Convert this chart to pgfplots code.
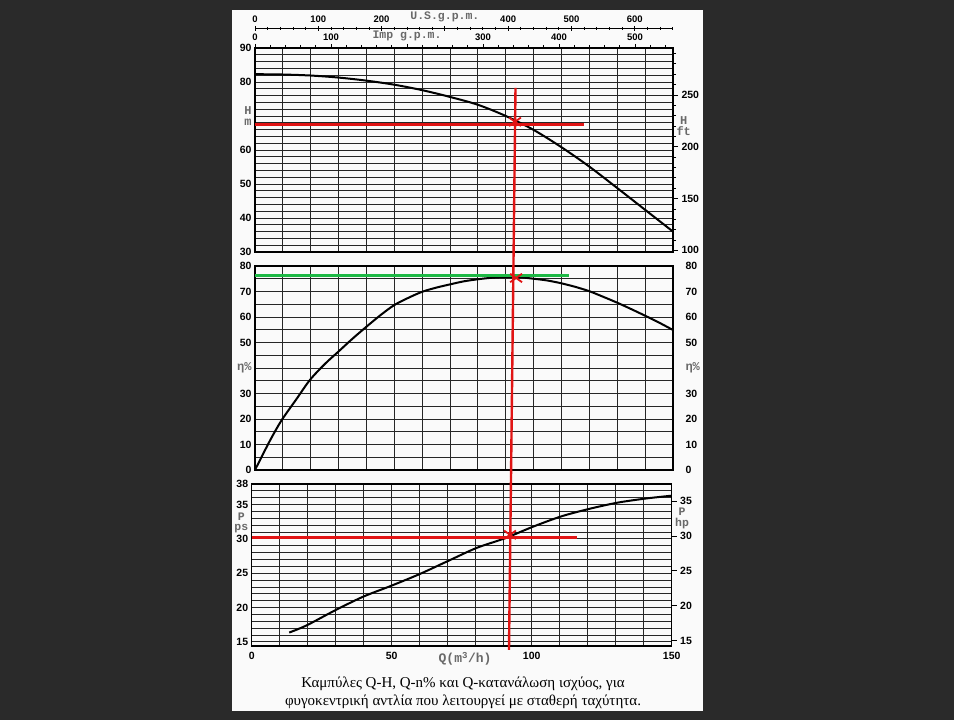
\documentclass[border=0pt]{standalone}
\usepackage{pgfplots}
\pgfplotsset{compat=1.18}
\usepackage{fontspec}
\setmainfont{Liberation Serif}
\newfontfamily\tickfont{Liberation Sans}
\newfontfamily\lblfont{Liberation Mono}
\definecolor{bgdark}{RGB}{42,42,42}
\definecolor{pagewhite}{RGB}{250,250,250}
\definecolor{rline}{RGB}{225,20,20}
\definecolor{gline}{RGB}{30,185,70}
\definecolor{lblgray}{RGB}{105,105,105}
\newcommand{\tk}{\tickfont\bfseries\fontsize{10.5}{10.5}\selectfont}
\newcommand{\tks}{\tickfont\bfseries\fontsize{9.5}{9.5}\selectfont}
\newcommand{\lb}{\lblfont\color{lblgray}\fontsize{12}{12.6}\selectfont}
\newcommand{\lbp}{\lblfont\color{lblgray}\fontsize{11.5}{12.5}\selectfont}
\newcommand{\lbb}{\lblfont\color{lblgray}\fontsize{11.5}{12}\selectfont}

\pgfplotsset{
  panel/.style={
    scale only axis, width=418pt, height=204pt,
    xmin=0, xmax=150,
    axis line style={line width=1.3pt},
    grid=both,
    major grid style={black!85, line width=0.9pt},
    minor grid style={black!85, line width=0.9pt},
    major tick length=0pt, minor tick length=0pt,
    tick label style={font=\tk},
    yticklabel style={align=center},
    /pgf/number format/assume math mode=true,
    clip=false,
  },
  over/.style={
    scale only axis, width=418pt, height=204pt,
    xmin=0, xmax=150,
    axis line style={line width=1.3pt},
    tick style={black, line width=0.8pt},
    tick label style={font=\tk},
    yticklabel style={align=center},
    /pgf/number format/assume math mode=true,
  },
  curve/.style={black, line width=2pt, smooth},
  redl/.style={rline, line width=2.4pt},
  cross/.style={rline, line width=1.8pt, only marks, mark=x, mark size=6pt,
    mark options={xscale=1.4}},
}

\begin{document}
\begin{tikzpicture}
\useasboundingbox (0pt,0pt) rectangle (954pt,720pt);
\fill[bgdark] (0pt,0pt) rectangle (954pt,720pt);
\fill[pagewhite] (232pt,9pt) rectangle (703pt,710pt);

% ---------- TOP PANEL: Q-H ----------
\begin{axis}[panel, at={(255pt,468pt)}, anchor=south west,
  ymin=30, ymax=90,
  xtick={0,10,...,150}, xticklabel=\empty,
  ytick={30,40,...,90}, minor ytick={30,32,...,90},
  yticklabels={30,40,50,60,{\lb H\\\lb m},80,90}]
\addplot[curve] coordinates {
 (0,82.3) (10,82.2) (20,81.9) (30,81.3) (40,80.4) (50,79.2) (60,77.6) (70,75.6)
 (80,73.3) (90,70.0) (100,65.9) (110,60.8) (120,55.1) (130,48.8) (140,42.4) (150,36.0)};
\addplot[redl] coordinates {(0,67.5) (118,67.5)};
\addplot[redl] coordinates {(93.48,78.24) (92.77,27.94)};
\addplot[cross] coordinates {(93.3,68.3)};
\end{axis}
% H ft right axis
\begin{axis}[over, at={(255pt,468pt)}, anchor=south west,
  ymin=98.425, ymax=295.276,
  axis x line=none, axis y line*=right,
  ytick={100,150,200,250}, minor ytick={110,120,...,290},
  tick align=outside, major tick length=5pt, minor tick length=3pt,
  extra y ticks={220}, extra y tick labels={{\lb H\\\lb ft}},
  extra y tick style={major tick length=0pt}]
\end{axis}
% Imp g.p.m. scale
\begin{axis}[over, at={(255pt,468pt)}, anchor=south west,
  xmin=0, xmax=549.92, ymin=0, ymax=1,
  axis y line=none, axis x line*=top,
  xtick={0,100,...,500}, xticklabels={0,100,{\raisebox{-1.5pt}{\lbb Imp g.p.m.}},300,400,500},
  minor xtick={0,20,...,540},
  tick align=outside, major tick length=4pt, minor tick length=3pt,
  xticklabel style={font=\tks}]
\end{axis}
% U.S. g.p.m. scale
\begin{axis}[over, at={(255pt,691.7pt)}, anchor=north west, height=10pt,
  xmin=0, xmax=660.43, ymin=0, ymax=1,
  axis y line=none, axis x line*=top,
  axis line style={line width=0.9pt},
  xtick={0,100,...,600}, xticklabels={0,100,200,{\raisebox{-2.5pt}{\lbb U.S.g.p.m.}},400,500,600},
  minor xtick={0,20,...,660},
  tick align=center, major tick length=5pt, minor tick length=3pt,
  xticklabel style={font=\tks}]
\end{axis}

% ---------- MIDDLE PANEL: Q-eta ----------
\begin{axis}[panel, at={(255pt,250pt)}, anchor=south west,
  ymin=0, ymax=80,
  xtick={0,10,...,150}, xticklabel=\empty,
  ytick={0,10,...,80}, minor ytick={0,5,...,80},
  yticklabels={0,10,20,30,{\lb η\%},50,60,70,80}]
\addplot[curve] coordinates {
 (0,0) (3,6.5) (6,12.8) (9.6,19.6) (15,28) (19.7,35.3) (25,41.5) (29.9,46.4) (35,51.5)
 (40,56.2) (45,60.7) (50,64.7) (55,67.5) (60,69.9) (65,71.5) (70,72.8) (75,74.0)
 (80,74.8) (85,75.4) (90,75.7) (95,75.6) (100,75.0) (105,74.3) (110,73.2) (115,71.8)
 (120,70.1) (125,67.9) (130,65.6) (135,63.1) (140,60.5) (145,57.8) (150,54.9)};
\addplot[gline, line width=2.4pt] coordinates {(0,76.3) (112.7,76.3)};
\addplot[redl] coordinates {(92.77,82.75) (91.87,-2.75)};
\addplot[cross] coordinates {(93.7,75.3)};
\end{axis}
\begin{axis}[over, at={(255pt,250pt)}, anchor=south west,
  ymin=0, ymax=80,
  axis x line=none, axis y line*=right,
  ytick={0,10,...,80}, major tick length=0pt,
  yticklabels={0,10,20,30,{\lb η\%},50,60,70,80},
  yticklabel style={xshift=9pt}]
\end{axis}

% ---------- BOTTOM PANEL: Q-P ----------
\begin{axis}[panel, at={(251.7pt,74pt)}, anchor=south west,
  width=420pt, height=162pt,
  ymin=14.4, ymax=38,
  xtick={0,50,100,150}, xticklabels={0,50,100,150},
  minor xtick={0,10,...,150},
  ytick={15,20,25,30,35,38}, yticklabels={15,20,25,30,35,38},
  minor ytick={15,16,...,38},
  extra y ticks={32.3}, extra y tick labels={{\lbp P\\\lbp ps}},
  extra y tick style={grid=none, yticklabel style={inner ysep=0pt}},
  extra x ticks={76.2}, extra x tick labels={{\lblfont\color{lblgray}\fontsize{13}{13}\selectfont Q(m\textsuperscript{3}/h)}},
  extra x tick style={grid=none},
  xticklabel style={yshift=-3pt}]
\addplot[curve] coordinates {
 (13.4,16.36) (19.6,17.4) (29.8,19.6) (39.9,21.6) (50,23.2) (60.1,24.9) (70.2,26.8)
 (80.4,28.7) (90.5,30.1) (100.6,31.8) (110.7,33.3) (120.8,34.4) (130.9,35.3)
 (141.1,35.9) (150,36.3)};
\addplot[redl] coordinates {(0,30.2) (116,30.2)};
\addplot[redl] coordinates {(92.61,39.02) (91.89,13.82)};
\addplot[cross] coordinates {(92.25,30.6)};
\end{axis}
\begin{axis}[over, at={(251.7pt,74pt)}, anchor=south west,
  width=420pt, height=162pt,
  ymin=14.203, ymax=37.48,
  axis x line=none, axis y line*=right,
  ytick={15,20,...,35},
  tick align=outside, major tick length=5pt,
  extra y ticks={32.5}, extra y tick labels={{\lbp P\\\lbp hp}},
  extra y tick style={major tick length=0pt, yticklabel style={inner ysep=0pt}}]
\end{axis}

\node[font=\fontsize{15}{17.5}\selectfont, align=center, text=black] at (463pt,27pt)
 {Καμπύλες Q-H, Q-n\% και Q-κατανάλωση ισχύος, για\\
  φυγοκεντρική αντλία που λειτουργεί με σταθερή ταχύτητα.};
\end{tikzpicture}
\end{document}
